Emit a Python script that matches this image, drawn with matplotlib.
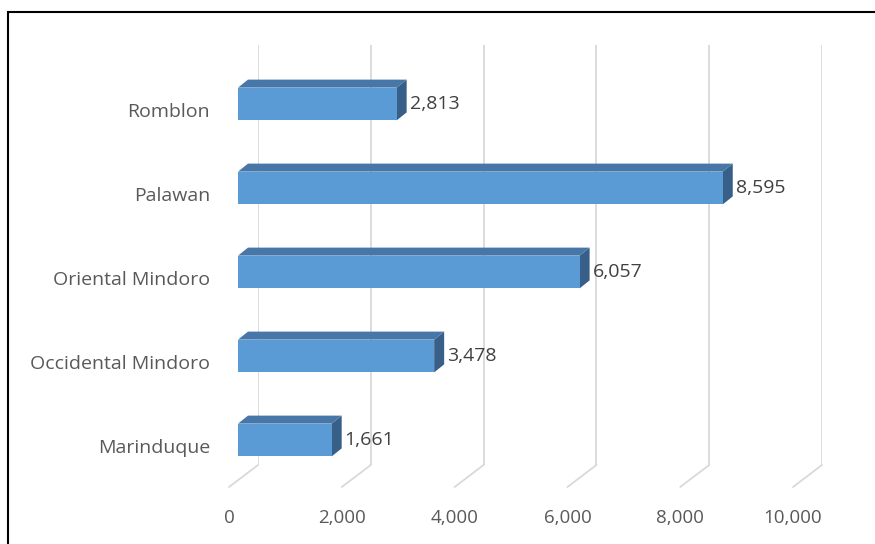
import matplotlib
matplotlib.use("Agg")
import matplotlib.pyplot as plt
import matplotlib.transforms as mtransforms
from matplotlib.patches import Polygon, Rectangle, ConnectionPatch

# Provinces of MIMAROPA, bottom to top as drawn
provinces = ["Marinduque", "Occidental Mindoro", "Oriental Mindoro", "Palawan", "Romblon"]
counts = [1661, 3478, 6057, 8595, 2813]
ticks = [0, 2000, 4000, 6000, 8000, 10000]
tick_labels = ["0", "2,000", "4,000", "6,000", "8,000", "10,000"]

plt.rcParams["font.family"] = ["Open Sans", "DejaVu Sans"]

fig = plt.figure(figsize=(8.75, 5.44), dpi=100)
W, H = 875, 544
# axes = back wall of the 3d box (pixels)
ax = fig.add_axes([258 / W, (H - 465) / H, (822 - 258) / W, (465 - 45) / H])
ax.set_xlim(0, 10000)
ax.set_ylim(-0.5, 4.5)
ax.axis("off")


def shifted(dx, dy):
    # data -> pixels, then nudged by (dx, dy) pixels for the oblique depth
    return ax.transData + mtransforms.Affine2D().translate(dx, dy)


front = shifted(-20, -17)   # front face of the bars
back = shifted(-10, -9)     # back face of the bars
floor_front = shifted(-29, -22)

grid_c = "#d9d9d9"
for t, lab in zip(ticks, tick_labels):
    ax.axvline(t, color=grid_c, lw=1.3, zorder=0)
    con = ConnectionPatch(xyA=(t, -0.5), coordsA=ax.transData,
                          xyB=(t, -0.5), coordsB=floor_front,
                          color=grid_c, lw=1.3, zorder=0)
    fig.add_artist(con)
    ax.text(t, -0.5, lab, transform=shifted(-29, -53), ha="center", va="center",
            fontsize=13.5, color="#595959")

bar_h = 0.39
front_c = "#5b9bd5"
top_c = "#4677a8"
side_c = "#385f87"
ident = mtransforms.IdentityTransform()

for i, (name, v) in enumerate(zip(provinces, counts)):
    y0, y1 = i - bar_h / 2, i + bar_h / 2
    # right side face
    side = [front.transform((v, y0)), front.transform((v, y1)),
            back.transform((v, y1)), back.transform((v, y0))]
    ax.add_patch(Polygon(side, closed=True, transform=ident, facecolor=side_c,
                         edgecolor="none", clip_on=False, zorder=2))
    # top face
    top = [front.transform((0, y1)), front.transform((v, y1)),
           back.transform((v, y1)), back.transform((0, y1))]
    ax.add_patch(Polygon(top, closed=True, transform=ident, facecolor=top_c,
                         edgecolor="none", clip_on=False, zorder=2))
    # front face
    ax.add_patch(Rectangle((0, y0), v, bar_h, transform=front, facecolor=front_c,
                           edgecolor="none", clip_on=False, zorder=3))
    ax.text(v, i, f"{v:,}", transform=shifted(-7, -17), ha="left", va="center",
            fontsize=14, color="#404040")
    ax.text(0, i, name, transform=shifted(-48, -25), ha="right", va="center",
            fontsize=14, color="#595959")

# chart frame
fig.add_artist(Rectangle((8 / W, -0.05), 1.0, 1.05 - 12 / H, transform=fig.transFigure,
                         facecolor="none", edgecolor="black", lw=1.5))

fig.savefig("out.png", dpi=100)
